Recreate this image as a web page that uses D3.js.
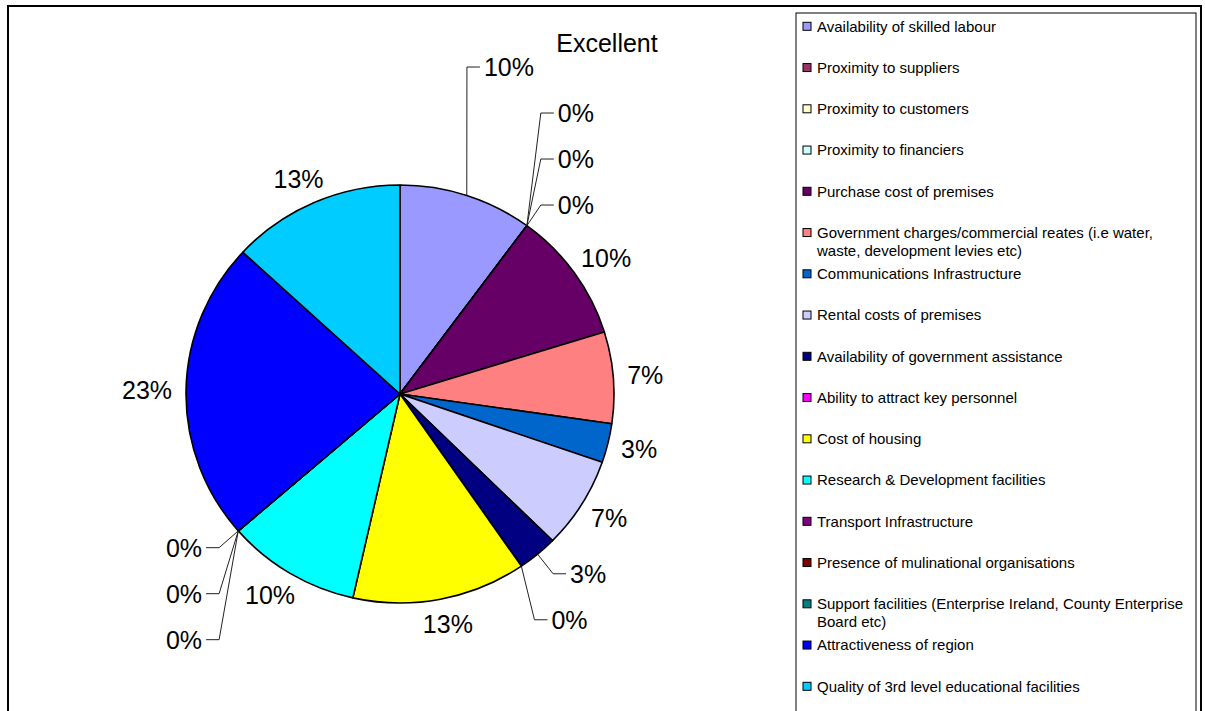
<!DOCTYPE html>
<html>
<head>
<meta charset="utf-8">
<script src="https://cdn.jsdelivr.net/npm/d3@7"></script>
<style>
  body { margin: 0; background: #fff; }
  svg { display: block; }
  text { font-family: "Liberation Sans", Arial, sans-serif; fill: #000; }
</style>
</head>
<body>
<svg id="chart" width="1205" height="711"></svg>
<script>
// Survey factors, in the order they are drawn (clockwise from 12 o'clock)
const categories = [
  "Availability of skilled labour",
  "Proximity to suppliers",
  "Proximity to customers",
  "Proximity to financiers",
  "Purchase cost of premises",
  "Government charges/commercial reates (i.e water, waste, development levies etc)",
  "Communications Infrastructure",
  "Rental costs of premises",
  "Availability of government assistance",
  "Ability to attract key personnel",
  "Cost of housing",
  "Research & Development facilities",
  "Transport Infrastructure",
  "Presence of mulinational organisations",
  "Support facilities (Enterprise Ireland, County Enterprise Board etc)",
  "Attractiveness of region",
  "Quality of 3rd level educational facilities"
];

// Share of "Excellent" ratings, in percent
const values = [10, 0, 0, 0, 10, 7, 3, 7, 3, 0, 13, 10, 0, 0, 0, 23, 13];

const colors = [
  "#9999FF", "#993366", "#FFFFCC", "#CCFFFF", "#660066", "#FF8080",
  "#0066CC", "#CCCCFF", "#000080", "#FF00FF", "#FFFF00", "#00FFFF",
  "#800080", "#800000", "#008080", "#0000FF", "#00CCFF"
];

const title = "Excellent";

const svg = d3.select("#chart");

// chart frame
svg.append("rect")
  .attr("x", 8).attr("y", 6).attr("width", 1193).attr("height", 800)
  .attr("fill", "#fff").attr("stroke", "#000").attr("stroke-width", 2);

// title
svg.append("text")
  .attr("x", 607).attr("y", 52)
  .attr("text-anchor", "middle")
  .attr("font-size", 25)
  .text(title);

// ---- pie ----
const cx = 400, cy = 394, R = 214, RY = 209, ky = RY / R;

const pie = d3.pie().sort(null).value(d => d);
const arcs = pie(values);
const arc = d3.arc().innerRadius(0).outerRadius(R);

const gPie = svg.append("g")
  .attr("transform", `translate(${cx},${cy}) scale(1,${ky})`);

gPie.selectAll("path")
  .data(arcs)
  .join("path")
  .attr("d", arc)
  .attr("fill", (d, i) => colors[i])
  .attr("stroke", "#000")
  .attr("stroke-width", 1.6)
  .attr("stroke-linejoin", "round")
  .attr("vector-effect", "non-scaling-stroke");

// ---- percentage labels ----
const LABEL_SIZE = 25;
const fmt = v => v + "%";

const probe = svg.append("text").attr("font-size", LABEL_SIZE).style("visibility", "hidden");
const labels = arcs.map((a, i) => {
  const th = (a.startAngle + a.endAngle) / 2;
  const s = Math.sin(th), c = Math.cos(th);
  const text = fmt(values[i]);
  probe.text(text);
  const w = probe.node().getComputedTextLength();
  const h = 24;
  const ra = R + 14;
  const ax = cx + ra * s, ay = cy - ra * ky * c;
  const x0 = ax + (w / 2) * s, y0 = ay - (h / 2) * c;
  return {
    i, th, s, c, text, w, x: x0, y: y0, x0, y0,
    dir: s >= 0 ? 1 : -1,
    ex: cx + R * s, ey: cy - RY * c,
    crowded: false, leader: false
  };
});
probe.remove();

// push crowded labels apart, away from the horizontal midline
const STEP = 46, NEAR_Y = 42, NEAR_TH = 21 * Math.PI / 180;
[1, -1].forEach(dir => [true, false].forEach(upper => {
  const grp = labels
    .filter(l => l.dir === dir && (l.y0 < cy) === upper)
    .sort((a, b) => Math.abs(a.y0 - cy) - Math.abs(b.y0 - cy) || a.i - b.i);
  const placed = [];
  grp.forEach(l => {
    const hits = placed.filter(p =>
      Math.abs(p.y0 - l.y0) < NEAR_Y && Math.abs(p.th - l.th) < NEAR_TH);
    if (hits.length) {
      if (upper) l.y = Math.min(l.y0, d3.min(hits, p => p.y) - STEP);
      else l.y = Math.max(l.y0, d3.max(hits, p => p.y) + STEP);
      l.crowded = true;
      hits.forEach(p => { p.crowded = true; });
    }
    placed.push(l);
  });
}));

labels.forEach(l => {
  l.leader = Math.abs(l.y - l.y0) > 0.5 || (l.crowded && values[l.i] < 5);
  if (l.leader) l.x = l.x0 + 30 * l.dir;
});

// leader lines
const line = d3.line();
svg.append("g")
  .selectAll("path")
  .data(labels.filter(l => l.leader))
  .join("path")
  .attr("d", l => {
    const near = l.x - l.dir * l.w / 2;
    return line([[l.ex, l.ey], [near - l.dir * 17, l.y], [near - l.dir * 4, l.y]]);
  })
  .attr("fill", "none")
  .attr("stroke", "#222")
  .attr("stroke-width", 1);

svg.append("g")
  .selectAll("text")
  .data(labels)
  .join("text")
  .attr("x", l => l.x)
  .attr("y", l => l.y + LABEL_SIZE * 0.358)
  .attr("text-anchor", "middle")
  .attr("font-size", LABEL_SIZE)
  .text(l => l.text);

// ---- legend ----
const legend = svg.append("g");
legend.append("rect")
  .attr("x", 796).attr("y", 13).attr("width", 400).attr("height", 760)
  .attr("fill", "#fff").attr("stroke", "#000").attr("stroke-width", 1);

const slotY = d3.scaleLinear()
  .domain([0, categories.length - 1])
  .range([26.3, 26.3 + (categories.length - 1) * 41.25]);

const LEG_SIZE = 15, LEG_X = 817, LEG_W = 374, LEG_LH = 18;

const items = legend.selectAll("g.item")
  .data(categories)
  .join("g")
  .attr("class", "item");

items.append("rect")
  .attr("x", 803)
  .attr("y", (d, i) => slotY(i) - 4)
  .attr("width", 8).attr("height", 8)
  .attr("fill", (d, i) => colors[i])
  .attr("stroke", "#000").attr("stroke-width", 1);

items.append("text")
  .attr("x", LEG_X)
  .attr("y", (d, i) => slotY(i) + 5.4)
  .attr("font-size", LEG_SIZE)
  .each(function (d) {
    const t = d3.select(this);
    const words = d.split(" ");
    let lineWords = [];
    let tspan = t.append("tspan").attr("x", LEG_X).attr("dy", 0);
    let n = 0;
    words.forEach(word => {
      lineWords.push(word);
      tspan.text(lineWords.join(" "));
      if (tspan.node().getComputedTextLength() > LEG_W && lineWords.length > 1) {
        lineWords.pop();
        tspan.text(lineWords.join(" "));
        lineWords = [word];
        n++;
        tspan = t.append("tspan").attr("x", LEG_X).attr("dy", LEG_LH).text(word);
      }
    });
  });
</script>
</body>
</html>
